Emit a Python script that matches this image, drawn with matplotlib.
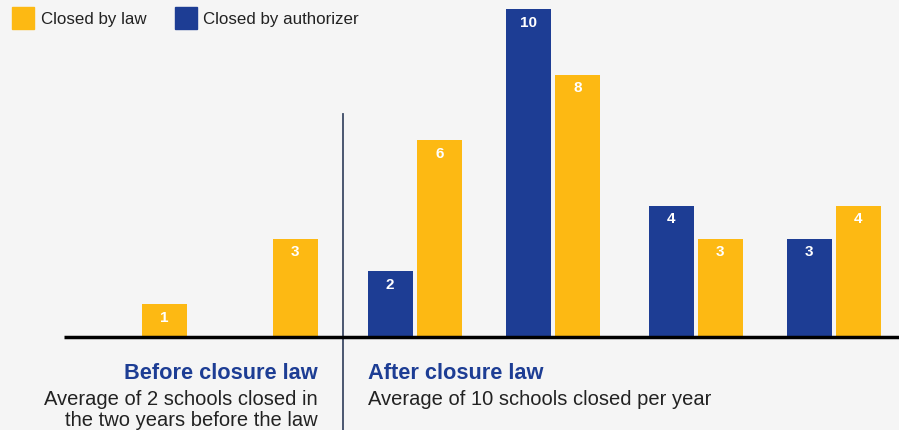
import matplotlib.pyplot as plt

plt.rcParams['font.family'] = ['Liberation Sans', 'DejaVu Sans']

# data
periods = ['before', 'before', 'after', 'after', 'after', 'after']
by_authorizer = [None, None, 2, 10, 4, 3]
by_law = [1, 3, 6, 8, 3, 4]

YELLOW = '#fdb913'
BLUE = '#1d3d94'
BG = '#f5f5f5'

fig = plt.figure(figsize=(8.99, 4.31), dpi=100, facecolor=BG)
ax = fig.add_axes([0, 0, 1, 1])
ax.set_facecolor(BG)
unit = 32.8
ax.set_xlim(0, 899)
ax.set_ylim(-(431 - 338) / unit, 338 / unit)
ax.axis('off')

group_x = [93, 224, 368, 506, 649, 787]
bw = 44.5
gap = 49

for gx, a, l in zip(group_x, by_authorizer, by_law):
    if a is not None:
        ax.bar(gx, a, width=bw, color=BLUE, align='edge', zorder=2)
        ax.text(gx + bw / 2, a - 0.17, str(a), color='white', ha='center', va='top',
                fontsize=11, fontweight='semibold', zorder=3)
    ax.bar(gx + gap, l, width=bw, color=YELLOW, align='edge', zorder=2)
    ax.text(gx + gap + bw / 2, l - 0.17, str(l), color='white', ha='center', va='top',
            fontsize=11, fontweight='semibold', zorder=3)

# baseline and divider
ax.plot([64, 899], [0, 0], color='black', lw=2.5, zorder=4, solid_capstyle='butt')
ax.plot([343, 343], [(338 - 115) / unit, -3], color='#3c4a66', lw=1.3, zorder=1)

# legend
ax.add_patch(plt.Rectangle((12, (338 - 30) / unit), 22, 22 / unit, color=YELLOW))
ax.text(41, (338 - 19) / unit, 'Closed by law', fontsize=12.2, va='center', color='#222222')
ax.add_patch(plt.Rectangle((175, (338 - 30) / unit), 22, 22 / unit, color=BLUE))
ax.text(203, (338 - 19) / unit, 'Closed by authorizer', fontsize=12.2, va='center', color='#222222')

# period labels
ax.text(318, (338 - 374) / unit, 'Before closure law', fontsize=15.7, fontweight='bold',
        color=BLUE, ha='right', va='center')
ax.text(318, (338 - 400) / unit, 'Average of 2 schools closed in', fontsize=14.5,
        color='#222222', ha='right', va='center')
ax.text(318, (338 - 421) / unit, 'the two years before the law', fontsize=14.5,
        color='#222222', ha='right', va='center')
ax.text(368, (338 - 374) / unit, 'After closure law', fontsize=15.7, fontweight='bold',
        color=BLUE, ha='left', va='center')
ax.text(368, (338 - 400) / unit, 'Average of 10 schools closed per year', fontsize=14.5,
        color='#222222', ha='left', va='center')

fig.savefig('out.png', dpi=100, facecolor=BG)
